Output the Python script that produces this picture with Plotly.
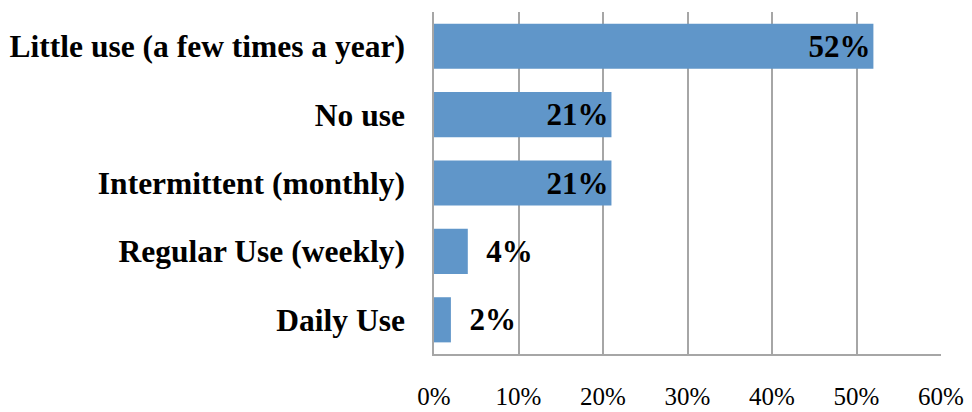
import plotly.graph_objects as go

categories = ["Little use (a few times a year)", "No use", "Intermittent (monthly)",
              "Regular Use (weekly)", "Daily Use"]
values = [52, 21, 21, 4, 2]
label_positions = ["inside", "inside", "inside", "outside", "outside"]
tick_vals = [0, 10, 20, 30, 40, 50, 60]
tick_text = ["0%", "10%", "20%", "30%", "40%", "50%", "60%"]

FONT = "Liberation Serif"
BAR_COLOR = "#6096C9"
GRID = "#A6A6A6"

texts = [(f"{v}%" if p == "inside" else f"\u00a0\u00a0{v}%")
         for v, p in zip(values, label_positions)]

fig = go.Figure(go.Bar(
    x=values, y=categories, orientation="h",
    marker=dict(color=BAR_COLOR, line=dict(width=0)),
    text=texts, textposition=label_positions,
    insidetextanchor="end",
    textfont=dict(family=FONT, size=31, color="black", weight="bold"),
    cliponaxis=False,
))

# page body has an 8px margin, so the figure is sized to fit the window
fig.update_layout(
    width=964, height=404,
    margin=dict(l=426, r=31, t=4, b=58, autoexpand=False),
    paper_bgcolor="white", plot_bgcolor="white",
    bargap=0.34, showlegend=False,
    font=dict(family=FONT, color="black"),
)
fig.update_xaxes(
    range=[0, 60], tickvals=tick_vals, ticktext=tick_text,
    showgrid=True, gridcolor=GRID, gridwidth=1.5,
    showline=True, linecolor=GRID, linewidth=1.5,
    zeroline=False, ticks="", ticklabelstandoff=19, automargin=False,
    tickfont=dict(family=FONT, size=25, color="black"),
)
fig.update_yaxes(
    autorange="reversed", showgrid=False,
    showline=True, linecolor=GRID, linewidth=1.5,
    ticks="", ticklabelstandoff=21, automargin=False,
    tickfont=dict(family=FONT, size=31.5, color="black", weight="bold"),
)

fig.write_html("out.html")
